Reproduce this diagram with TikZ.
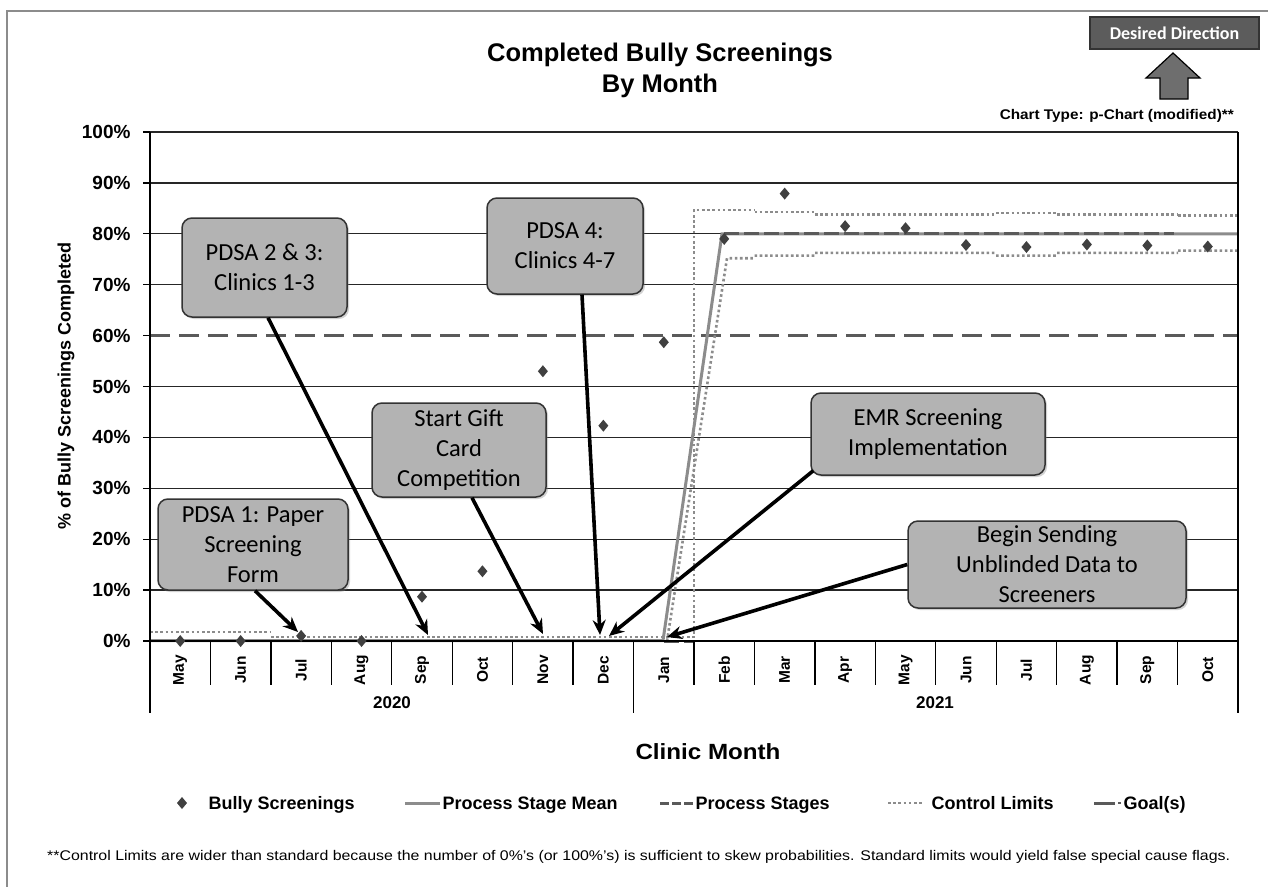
\documentclass[tikz,border=0pt]{standalone}
\usepackage{fontspec}
\setmainfont{Liberation Sans}
\newfontfamily\calfont{Carlito}
\usetikzlibrary{arrows.meta,shadows}
\definecolor{boxfill}{HTML}{B3B3B3}
\definecolor{diamc}{HTML}{404040}
\definecolor{meanc}{HTML}{8C8C8C}
\definecolor{stagec}{HTML}{5A5A5A}
\definecolor{limc}{HTML}{8C8C8C}
\definecolor{ddfill}{HTML}{5C5C5C}
\definecolor{uparrowc}{HTML}{6E6E6E}
\begin{document}
\begin{tikzpicture}[x=1pt,y=-1pt,
  grid/.style={draw=black!85,line width=1.3},
  meanline/.style={draw=meanc,line width=3},
  stageline/.style={draw=stagec,line width=3,dash pattern=on 15 off 5},
  limline/.style={draw=limc,line width=2.6,dash pattern=on 2.6 off 2.6},
  goalline/.style={draw=stagec,line width=2.6,dash pattern=on 20 off 9},
  diam/.style={fill=diamc,draw=none},
  callout/.style={draw=black!80,line width=1.5,fill=boxfill,rounded corners=10,
    drop shadow={shadow xshift=2pt,shadow yshift=-2pt,opacity=0.35},
    align=center,inner sep=0pt,font=\calfont\fontsize{24.5}{30}\selectfont},
  arr/.style={draw=black,line width=3.6,-{Stealth[length=15pt,width=13pt]}},
  ylab/.style={anchor=east,font=\bfseries\fontsize{19}{22}\selectfont},
  mlab/.style={rotate=90,font=\bfseries\fontsize{15.5}{17}\selectfont},
  leg/.style={anchor=base west,font=\bfseries\fontsize{18}{20}\selectfont}
]
\def\Y#1{641-5.09*(#1)}
\useasboundingbox (0,0) rectangle (1268,886);
\fill[white] (0,0) rectangle (1268,886);
% outer frame
\draw[black!45,line width=1.6] (7,900) -- (7,11) -- (1280,11);

% title
\node[align=center,font=\bfseries\fontsize{25.5}{31}\selectfont] (title) at (660,70) {Completed Bully Screenings\\By Month};
% desired direction
\node[draw=black!80,line width=1.5,fill=ddfill,minimum width=169,minimum height=32,inner sep=0pt,
  text=white,font=\calfont\bfseries\fontsize{18}{20}\selectfont] (dd) at (1174.5,33) {Desired Direction};
\filldraw[fill=uparrowc,draw=black,line width=1.2] (1160,99) -- (1160,78) -- (1146,78) -- (1173,53) -- (1200,78) -- (1188,78) -- (1188,99) -- cycle;
\node[anchor=east,inner sep=0pt] (ctype) at (1234,116) {\resizebox{234pt}{\height}{\bfseries\fontsize{14}{16}\selectfont Chart Type: p-Chart (modified)**}};

% gridlines
\foreach \p in {10,20,30,40,50,70,80,90,100}
  \draw[grid] (150,{\Y{\p}}) -- (1238,{\Y{\p}});
\foreach \p in {0,10,...,100}{
  \draw[black,line width=1.3] (143,{\Y{\p}}) -- (150,{\Y{\p}});
  \node[ylab] at (134,{\Y{\p}}) {\p\%};
}
% goal 60%
\draw[goalline] (150,{\Y{60}}) -- (1238,{\Y{60}});

% control limits
\draw[limline] (150,{\Y{1.8}}) -- (271,{\Y{1.8}});
\draw[limline] (271,{\Y{0.8}}) -- (694,{\Y{0.8}}) -- (694,{\Y{84.7}}) -- (754.5,{\Y{84.7}})
  (754.5,{\Y{84.3}}) -- (815,{\Y{84.3}}) (815,{\Y{83.8}}) -- (996,{\Y{83.8}})
  (996,{\Y{84.1}}) -- (1057,{\Y{84.1}}) (1057,{\Y{83.8}}) -- (1178,{\Y{83.8}})
  (1178,{\Y{83.6}}) -- (1238,{\Y{83.6}});
\draw[limline] (667,{\Y{0}}) -- (727,{\Y{75.2}}) -- (754.5,{\Y{75.2}})
  (754.5,{\Y{75.7}}) -- (815,{\Y{75.7}}) (815,{\Y{76.25}}) -- (996,{\Y{76.25}})
  (996,{\Y{75.7}}) -- (1057,{\Y{75.7}}) (1057,{\Y{76.25}}) -- (1178,{\Y{76.25}})
  (1178,{\Y{76.7}}) -- (1238,{\Y{76.7}});
% mean
\draw[meanline] (150,{\Y{0.1}}) -- (663,{\Y{0.1}}) -- (722,{\Y{80}}) -- (1238,{\Y{80}});
% process stages
\draw[stageline] (724,{\Y{80}}) -- (1174,{\Y{80}});
\draw[stageline] (664,{\Y{0}}) -- (694,{\Y{0}});

% axes
\draw[black,line width=2] (150,{\Y{100}}) -- (150,713);
\draw[black,line width=1.6] (1238,{\Y{100}}) -- (1238,713);
\draw[black,line width=1.8] (150,641) -- (1238,641);
\foreach \i in {1,...,17}
  \draw[black,line width=1.3] ({150+\i*60.444},641) -- ++(0,44);
\draw[black,line width=1.3] (633.6,641) -- (633.6,713);

% month labels
\foreach \m [count=\i from 0] in {May,Jun,Jul,Aug,Sep,Oct,Nov,Dec,Jan,Feb,Mar,Apr,May,Jun,Jul,Aug,Sep,Oct}
  \node[mlab] at ({150+(\i+0.5)*60.444},670) {\m};
\node[font=\bfseries\fontsize{17}{19}\selectfont] (y2020) at (392,703) {2020};
\node[font=\bfseries\fontsize{17}{19}\selectfont] (y2021) at (935,703) {2021};

% data
\foreach \i/\p in {0/0,1/0,2/1,3/0,4/8.7,5/13.7,6/53,7/42.3,8/58.7,9/79,10/87.9,11/81.5,12/81.1,13/77.8,14/77.4,15/77.9,16/77.7,17/77.5}
  \fill[diam] ({150+(\i+0.5)*60.444},{\Y{\p}}) +(0,-6) -- +(5,0) -- +(0,6) -- +(-5,0) -- cycle;

% axis titles
\node[rotate=90,font=\bfseries\fontsize{18}{20}\selectfont] (ytitle) at (66,386) {\% of Bully Screenings Completed};
\node[inner sep=0pt] (xtitle) at (708,752) {\resizebox{145pt}{\height}{\bfseries\fontsize{22}{24}\selectfont Clinic Month}};

% callouts
\node[callout,minimum width=190,minimum height=91] (b1) at (253,544.5) {PDSA 1: Paper\\Screening\\Form};
\node[callout,minimum width=165,minimum height=99] (b2) at (264.5,267.5) {PDSA 2 \& 3:\\Clinics 1-3};
\node[callout,minimum width=174,minimum height=94] (b3) at (459,450) {Start Gift\\Card\\Competition};
\node[callout,minimum width=156,minimum height=96] (b4) at (565,246) {PDSA 4:\\Clinics 4-7};
\node[callout,minimum width=234,minimum height=82] (b5) at (928,434) {EMR Screening\\Implementation};
\node[callout,minimum width=278,minimum height=87] (b6) at (1047,564.5) {Begin Sending\\Unblinded Data to\\Screeners};

\coordinate (t1) at (298,632);
\coordinate (t2) at (428,635);
\coordinate (t3) at (543,634);
\coordinate (t4) at (600,635);
\coordinate (t5) at (609,636);
\coordinate (t6) at (667,637);
\draw[arr] ([xshift=2]b1.south) -- (t1);
\draw[arr] ([xshift=3.5]b2.south) -- (t2);
\draw[arr] ([xshift=13]b3.south) -- (t3);
\draw[arr] ([xshift=17]b4.south) -- (t4);
\draw[arr] ([xshift=3,yshift=5]b5.south west) -- (t5);
\draw[arr] (b6.west) -- (t6);

% legend
\fill[diam] (182,803) +(0,-6) -- +(5,0) -- +(0,6) -- +(-5,0) -- cycle;
\node[leg] (l1) at (205,809.5) {Bully Screenings};
\draw[meanline] (405,803) -- (440,803);
\node[leg] (l2) at (439,809.5) {Process Stage Mean};
\draw[draw=stagec,line width=3,dash pattern=on 9 off 3] (660,803) -- (694,803);
\node[leg] (l3) at (692,809.5) {Process Stages};
\draw[limline] (888,803) -- (923,803);
\node[leg] (l4) at (928,809.5) {Control Limits};
\draw[draw=stagec,line width=3] (1094,803) -- (1115,803);
\draw[draw=stagec,line width=2] (1118,803) -- (1121,803);
\node[leg] (l5) at (1120,809.5) {Goal(s)};

% footnote
\node[anchor=west,inner sep=0pt] (foot) at (47,857) {\resizebox{1183pt}{\height}{\fontsize{14}{16}\selectfont **Control Limits are wider than standard because the number of 0\%'s (or 100\%'s) is sufficient to skew probabilities. Standard limits would yield false special cause flags.}};
\end{tikzpicture}
\end{document}
